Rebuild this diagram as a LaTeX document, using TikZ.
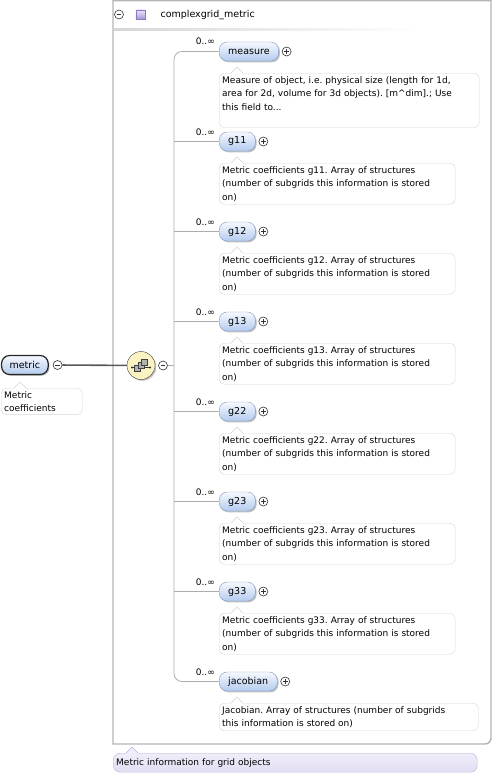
\documentclass[tikz,border=0pt]{standalone}
\usepackage{fontspec}
\setmainfont{DejaVu Sans}
\usetikzlibrary{positioning,shadows}
\frenchspacing

\definecolor{pilltop}{HTML}{F6F9FF}
\definecolor{pillbot}{HTML}{B3CBEE}
\definecolor{pillline}{HTML}{7F97BC}
\definecolor{docline}{HTML}{D4D4D4}
\definecolor{frameline}{HTML}{B4B4B4}
\definecolor{treeline}{HTML}{ADADAD}
\definecolor{lavtop}{HTML}{F0EEFA}
\definecolor{lavbot}{HTML}{E2DCF2}
\definecolor{lavline}{HTML}{BCB3D6}
\definecolor{typetop}{HTML}{ECE6FA}
\definecolor{typebot}{HTML}{A796D8}
\definecolor{typeline}{HTML}{8A78C4}
\definecolor{seqfill}{HTML}{FBF3C2}

% open notch on top of a documentation box: node, x offset, fill, line
\newcommand{\docnotch}[4]{%
  \fill[#3] ([xshift=#2]#1.north west) ++(0,1) -- ++(0,-1) -- ++(6,-6) -- ++(6,6) -- ++(0,1) -- cycle;
  \draw[#4] ([xshift=#2]#1.north west) -- ++(6,-6) -- ++(6,6);}

\tikzset{
  btn/.style={circle, draw=black!80, fill=white, minimum size=9pt, inner sep=0pt, line width=0.6pt},
  plusbtn/.style={btn, path picture={\draw[line width=0.6pt]
      ([xshift=-2.4pt]path picture bounding box.center) -- ([xshift=2.4pt]path picture bounding box.center)
      ([yshift=-2.4pt]path picture bounding box.center) -- ([yshift=2.4pt]path picture bounding box.center);}},
  minusbtn/.style={btn, path picture={\draw[line width=0.6pt]
      ([xshift=-2.4pt]path picture bounding box.center) -- ([xshift=2.4pt]path picture bounding box.center);}},
}

\begin{document}
\begin{tikzpicture}[x=1pt,y=-1pt,
    elem/.style={rounded corners=8pt, draw=pillline, top color=pilltop, bottom color=pillbot,
      minimum height=19pt, inner xsep=9pt, inner ysep=0pt, anchor=west,
      font=\fontsize{9.5}{11}\selectfont,
      drop shadow={shadow xshift=1.3pt, shadow yshift=-1.3pt, opacity=0.35, fill=black!70}},
    doc/.style={rounded corners=5pt, draw=docline, fill=white, anchor=north west, align=left,
      inner xsep=3pt, inner ysep=3pt, font=\fontsize{9}{13.5}\selectfont},
    mult/.style={anchor=base east, inner sep=0pt, font=\fontsize{9}{10}\selectfont},
    tree/.style={draw=treeline, line width=0.8pt},
    link/.style={draw=black!65, line width=1.6pt},
    frame/.style={draw=frameline, line width=1.4pt}
]
    \useasboundingbox (0,0) rectangle (495,776);

    % --- 1. Outer frame of the complex type ---
    \draw[frame] (113,0.7) -- (113,744) -- (485,744) arc[start angle=-90, end angle=0, radius=6pt] -- (491,0.7) -- cycle;
    \node[minusbtn] (hdrminus) at (119,14.5) {};
    \node[draw=typeline, top color=typetop, bottom color=typebot, minimum size=9.5pt, inner sep=0pt] (hdrtype) at (140.5,14.5) {};
    \node[anchor=west, font=\fontsize{9.5}{11}\selectfont] (hdrname) at (157,15) {complexgrid\_metric};
    \shade[left color=black!16, right color=white] (114,29) rectangle (420,31);

    % --- 2. Root element and the sequence compositor ---
    \node[elem, draw=black!85, line width=1.2pt, inner xsep=8pt] (metric) at (1,365) {metric};
    \node[minusbtn, right=4pt of metric] (metricminus) {};
    \node[doc, text width=75pt] (metricdoc) at (1,388) {Metric\\coefficients};
    \docnotch{metricdoc}{13pt}{white}{docline}

    \node[circle, draw=black!75, fill=seqfill, minimum size=28pt, inner sep=0pt,
      drop shadow={shadow xshift=1.3pt, shadow yshift=-1.3pt, opacity=0.35, fill=black!70}] (seq) at (141,365.5) {};
    \begin{scope}[shift={(seq.center)}]
      \draw[black!80, line width=0.6pt] (-9,2) -- (9,2);
      \fill[black!80] (-9,2) circle (1.2pt) (9,2) circle (1.2pt);
      \draw[black!75, fill=black!30] (-6.5,0) rectangle (-0.5,6);
      \draw[black!75, fill=black!30] (-3,-3) rectangle (3,3);
      \draw[black!75, fill=black!30] (0.5,-6) rectangle (6.5,0);
    \end{scope}
    \node[minusbtn, right=3pt of seq] (seqminus) {};
    \draw[link] (metricminus) -- (seq);

    % --- 3. Child elements (rows every 90px) ---
    \node[elem] (measure) at (219,51.5) {measure};
    \node[elem] (g11) at (219,141.5) {g11};
    \node[elem] (g12) at (219,231.5) {g12};
    \node[elem] (g13) at (219,321.5) {g13};
    \node[elem] (g22) at (219,411.5) {g22};
    \node[elem] (g23) at (219,501.5) {g23};
    \node[elem] (g33) at (219,591.5) {g33};
    \node[elem] (jacobian) at (219,681.5) {jacobian};

    \node[plusbtn, right=3pt of measure] {};
    \node[plusbtn, right=3pt of g11] {};
    \node[plusbtn, right=3pt of g12] {};
    \node[plusbtn, right=3pt of g13] {};
    \node[plusbtn, right=3pt of g22] {};
    \node[plusbtn, right=3pt of g23] {};
    \node[plusbtn, right=3pt of g33] {};
    \node[plusbtn, right=3pt of jacobian] {};

    % occurrence labels
    \node[mult] at (215,45) {0..∞};
    \node[mult] at (215,135) {0..∞};
    \node[mult] at (215,225) {0..∞};
    \node[mult] at (215,315) {0..∞};
    \node[mult] at (215,405) {0..∞};
    \node[mult] at (215,495) {0..∞};
    \node[mult] at (215,585) {0..∞};
    \node[mult] at (215,675) {0..∞};

    % --- 4. Tree connectors ---
    \coordinate (trunk) at (174,365.5);
    \draw[tree, rounded corners=8pt] (measure.west) -| (trunk) |- (jacobian.west);
    \draw[tree] (seqminus) -- (trunk);
    \draw[tree] (g11.west) -- (g11.west -| trunk);
    \draw[tree] (g12.west) -- (g12.west -| trunk);
    \draw[tree] (g13.west) -- (g13.west -| trunk);
    \draw[tree] (g22.west) -- (g22.west -| trunk);
    \draw[tree] (g23.west) -- (g23.west -| trunk);
    \draw[tree] (g33.west) -- (g33.west -| trunk);

    % --- 5. Documentation boxes ---
    \node[doc, text width=254pt] (measuredoc) at (219,73)
      {Measure of object, i.e. physical size (length for 1d,\\area for 2d, volume for 3d objects). [m\textasciicircum{}dim].; Use\\this field to...\\[1pt]\mbox{}};
    \node[doc, text width=230pt] (g11doc) at (219,163)
      {Metric coefficients g11. Array of structures\\(number of subgrids this information is stored\\on)};
    \node[doc, text width=230pt] (g12doc) at (219,253)
      {Metric coefficients g12. Array of structures\\(number of subgrids this information is stored\\on)};
    \node[doc, text width=230pt] (g13doc) at (219,343)
      {Metric coefficients g13. Array of structures\\(number of subgrids this information is stored\\on)};
    \node[doc, text width=230pt] (g22doc) at (219,433)
      {Metric coefficients g22. Array of structures\\(number of subgrids this information is stored\\on)};
    \node[doc, text width=230pt] (g23doc) at (219,523)
      {Metric coefficients g23. Array of structures\\(number of subgrids this information is stored\\on)};
    \node[doc, text width=230pt] (g33doc) at (219,613)
      {Metric coefficients g33. Array of structures\\(number of subgrids this information is stored\\on)};
    \node[doc, text width=253pt] (jacobiandoc) at (219,703)
      {Jacobian. Array of structures (number of subgrids\\this information is stored on)};
    \docnotch{measuredoc}{12pt}{white}{docline}
    \docnotch{g11doc}{12pt}{white}{docline}
    \docnotch{g12doc}{12pt}{white}{docline}
    \docnotch{g13doc}{12pt}{white}{docline}
    \docnotch{g22doc}{12pt}{white}{docline}
    \docnotch{g23doc}{12pt}{white}{docline}
    \docnotch{g33doc}{12pt}{white}{docline}
    \docnotch{jacobiandoc}{12pt}{white}{docline}

    % type documentation
    \node[doc, draw=lavline, top color=lavtop, bottom color=lavbot, text width=358pt,
      inner ysep=2pt, minimum height=19pt, rounded corners=7pt] (typedoc) at (113,753) {Metric information for grid objects};
    \docnotch{typedoc}{13pt}{lavtop}{lavline}

\end{tikzpicture}
\end{document}
